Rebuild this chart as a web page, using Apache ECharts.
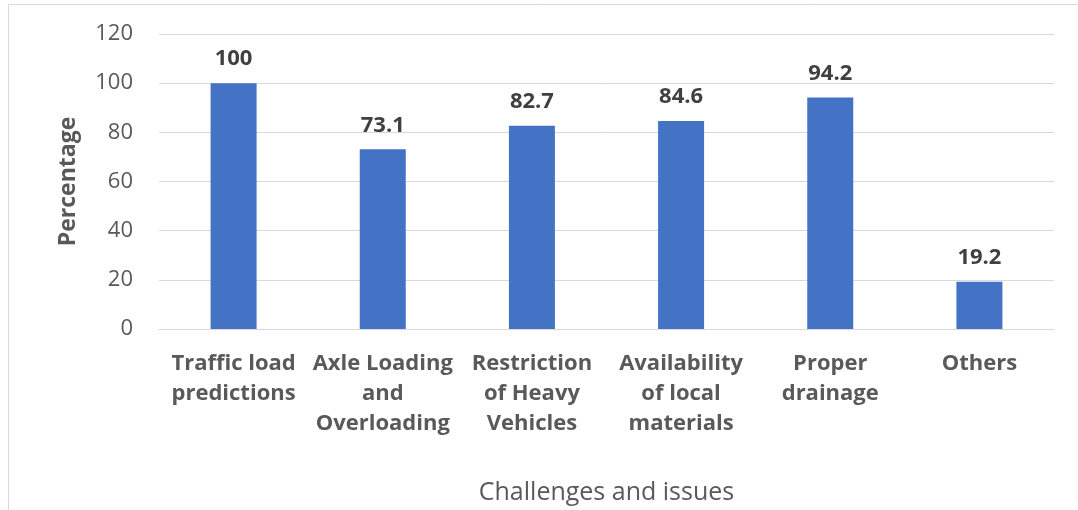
<!DOCTYPE html>
<html>
<head>
<meta charset="utf-8">
<style>
  html, body { margin: 0; padding: 0; background: #fff; }
  #chart { width: 1078px; height: 510px; }
</style>
<script src="https://cdn.jsdelivr.net/npm/echarts@6/dist/echarts.min.js"></script>
</head>
<body>
<div id="chart"></div>
<script>
// Survey results: share of respondents citing each challenge
const categories = [
  'Traffic load\npredictions',
  'Axle Loading\nand\nOverloading',
  'Restriction\nof Heavy\nVehicles',
  'Availability\nof local\nmaterials',
  'Proper\ndrainage',
  'Others'
];
const percentages = [100, 73.1, 82.7, 84.6, 94.2, 19.2];
const yTicks = { min: 0, max: 120, interval: 20 };

const FONT = '"Open Sans", "Noto Sans", sans-serif';

const chart = echarts.init(document.getElementById('chart'), null, { renderer: 'canvas' });

chart.setOption({
  animation: false,
  backgroundColor: '#ffffff',
  textStyle: { fontFamily: FONT },
  graphic: [
    {
      // light frame around the chart area
      type: 'rect',
      shape: { x: 8.5, y: 4.5, width: 1200, height: 700 },
      style: { fill: 'none', stroke: '#d9d9d9', lineWidth: 1 },
      silent: true,
      z: -1
    }
  ],
  grid: { left: 159, right: 24, top: 34, bottom: 181, containLabel: false },
  xAxis: {
    type: 'category',
    data: categories,
    name: 'Challenges and issues',
    nameLocation: 'middle',
    nameGap: 151,
    nameTextStyle: { fontSize: 25, color: '#595959', fontFamily: FONT },
    axisLine: { show: true, lineStyle: { color: '#d9d9d9', width: 1 } },
    axisTick: { show: false },
    axisLabel: {
      interval: 0,
      margin: 20,
      fontSize: 22,
      fontWeight: 'bold',
      color: '#595959',
      lineHeight: 30,
      fontFamily: FONT
    }
  },
  yAxis: {
    type: 'value',
    min: yTicks.min,
    max: yTicks.max,
    interval: yTicks.interval,
    name: 'Percentage',
    nameLocation: 'middle',
    nameGap: 79,
    nameRotate: 90,
    nameTextStyle: { fontSize: 23, fontWeight: 'bold', color: '#595959', fontFamily: FONT },
    axisLine: { show: false },
    axisTick: { show: false },
    axisLabel: { fontSize: 22, color: '#595959', margin: 26, fontFamily: FONT },
    splitLine: { lineStyle: { color: '#d9d9d9', width: 1 } }
  },
  series: [
    {
      type: 'bar',
      data: percentages,
      barWidth: 46,
      itemStyle: { color: '#4472c4' },
      label: {
        show: true,
        position: 'top',
        distance: 13,
        fontSize: 22,
        fontWeight: 'bold',
        color: '#404040',
        fontFamily: FONT
      }
    }
  ]
});
</script>
</body>
</html>
